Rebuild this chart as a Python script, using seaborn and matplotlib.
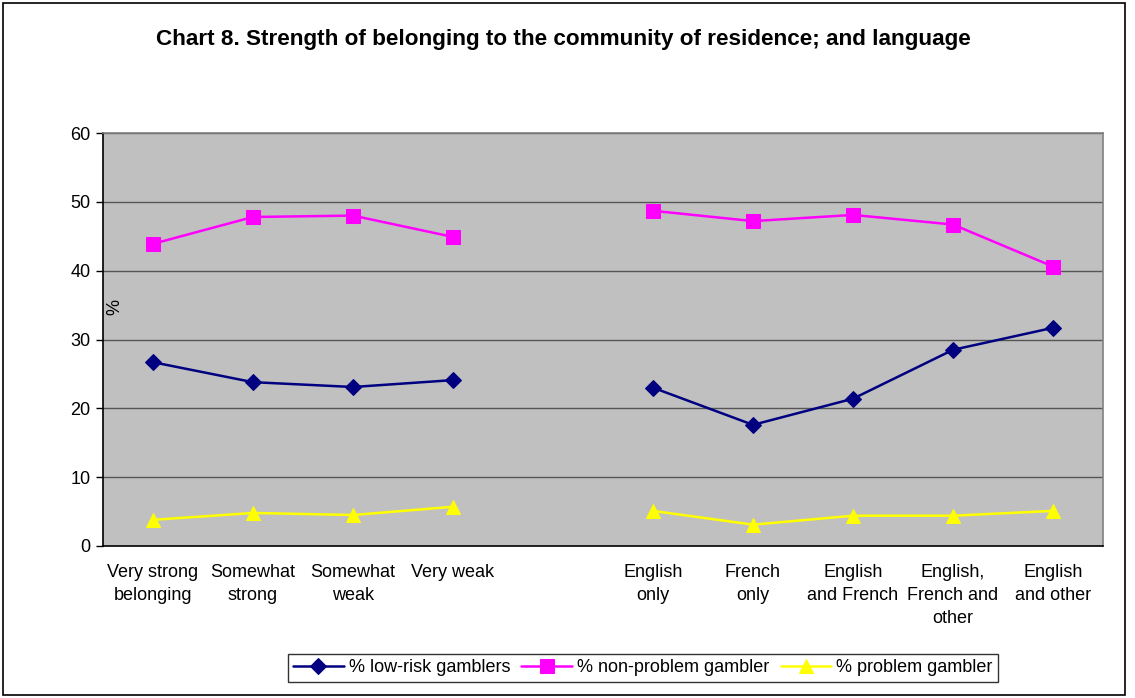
import matplotlib
matplotlib.use("Agg")
import matplotlib.pyplot as plt
from matplotlib.patches import Rectangle
import numpy as np
import pandas as pd
import seaborn as sns

categories = ["Very strong\nbelonging", "Somewhat\nstrong", "Somewhat\nweak", "Very weak", "",
              "English\nonly", "French\nonly", "English\nand French", "English,\nFrench and\nother",
              "English\nand other"]
low_risk = [26.7, 23.8, 23.1, 24.1, None, 23.0, 17.6, 21.4, 28.5, 31.7]
non_problem = [43.9, 47.8, 48.0, 44.9, None, 48.7, 47.2, 48.1, 46.7, 40.6]
problem = [3.8, 4.8, 4.5, 5.7, None, 5.1, 3.1, 4.4, 4.4, 5.1]
series_names = ["% low-risk gamblers", "% non-problem gambler", "% problem gambler"]
y_ticks = [0, 10, 20, 30, 40, 50, 60]

sns.set_theme(style="white")
plt.rcParams['font.family'] = ['Liberation Sans', 'DejaVu Sans']
plt.rcParams['text.color'] = 'black'
plt.rcParams['xtick.color'] = 'black'
plt.rcParams['ytick.color'] = 'black'

rows = []
for name, vals in zip(series_names, [low_risk, non_problem, problem]):
    for i, v in enumerate(vals):
        if v is not None:
            rows.append({"x": i, "value": v, "series": name, "group": 0 if i < 4 else 1})
df = pd.DataFrame(rows)

palette = {series_names[0]: "#000080", series_names[1]: "#FF00FF", series_names[2]: "#FFFF00"}
markers = {series_names[0]: "D", series_names[1]: "s", series_names[2]: "^"}
msize = {series_names[0]: 8, series_names[1]: 10, series_names[2]: 10}

fig = plt.figure(figsize=(11.35, 6.98), dpi=100)
ax = fig.add_axes([103/1135, 1-546/698, 1000/1135, 413/698])
ax.set_facecolor("#C0C0C0")

for g in [0, 1]:
    sub = df[df["group"] == g]
    for name in series_names:
        s = sub[sub["series"] == name]
        sns.lineplot(data=s, x="x", y="value", ax=ax, color=palette[name], marker=markers[name],
                     markersize=msize[name], markeredgecolor=palette[name], linewidth=1.8,
                     label=name if g == 0 else None, legend=False)

ax.set_xlim(-0.5, len(categories) - 0.5)
ax.set_ylim(0, 60)
ax.set_yticks(y_ticks)
ax.set_yticklabels([str(t) for t in y_ticks], fontsize=13, color="black")
ax.set_xticks(range(len(categories)))
ax.set_xticklabels(categories, fontsize=13, linespacing=1.45, color="black")
ax.set_xticks(np.arange(-0.5, len(categories)), minor=True)
ax.tick_params(axis="x", which="major", length=0, pad=13)
ax.tick_params(axis="x", which="minor", length=5, width=1, color="black", direction="out")
ax.tick_params(axis="y", which="major", length=5, width=1, color="black", direction="out", pad=4, left=True)
ax.set_xlabel("")
ax.set_ylabel("")
for t in y_ticks[1:]:
    ax.axhline(t, color="#555555", linewidth=1, zorder=0.5)
ax.spines["left"].set_color("black")
ax.spines["bottom"].set_color("black")
ax.spines["top"].set_color("#808080")
ax.spines["right"].set_color("#808080")
for sp in ax.spines.values():
    sp.set_linewidth(1.2)

fig.text(115/1135, 1-307/698, "%", rotation=90, fontsize=13, ha="center", va="center", color="black")
fig.text(563/1135, 1-40/698, "Chart 8. Strength of belonging to the community of residence; and language",
         fontsize=16.2, fontweight="bold", ha="center", va="center", color="black")

handles, labels = ax.get_legend_handles_labels()
leg = fig.legend(handles, labels, loc="center", bbox_to_anchor=(643/1135, 1-668/698), ncol=3,
                 fontsize=13, frameon=True, fancybox=False, edgecolor="black", handlelength=2.8,
                 columnspacing=0.6, handletextpad=0.3, borderpad=0.3, labelcolor="black")
leg.get_frame().set_linewidth(1.0)

fig.patches.append(Rectangle((3/1135, 3/698), 1122/1135, 692/698, transform=fig.transFigure,
                             fill=False, edgecolor="black", linewidth=1.2))

fig.savefig("out.png", dpi=100, facecolor="white")
